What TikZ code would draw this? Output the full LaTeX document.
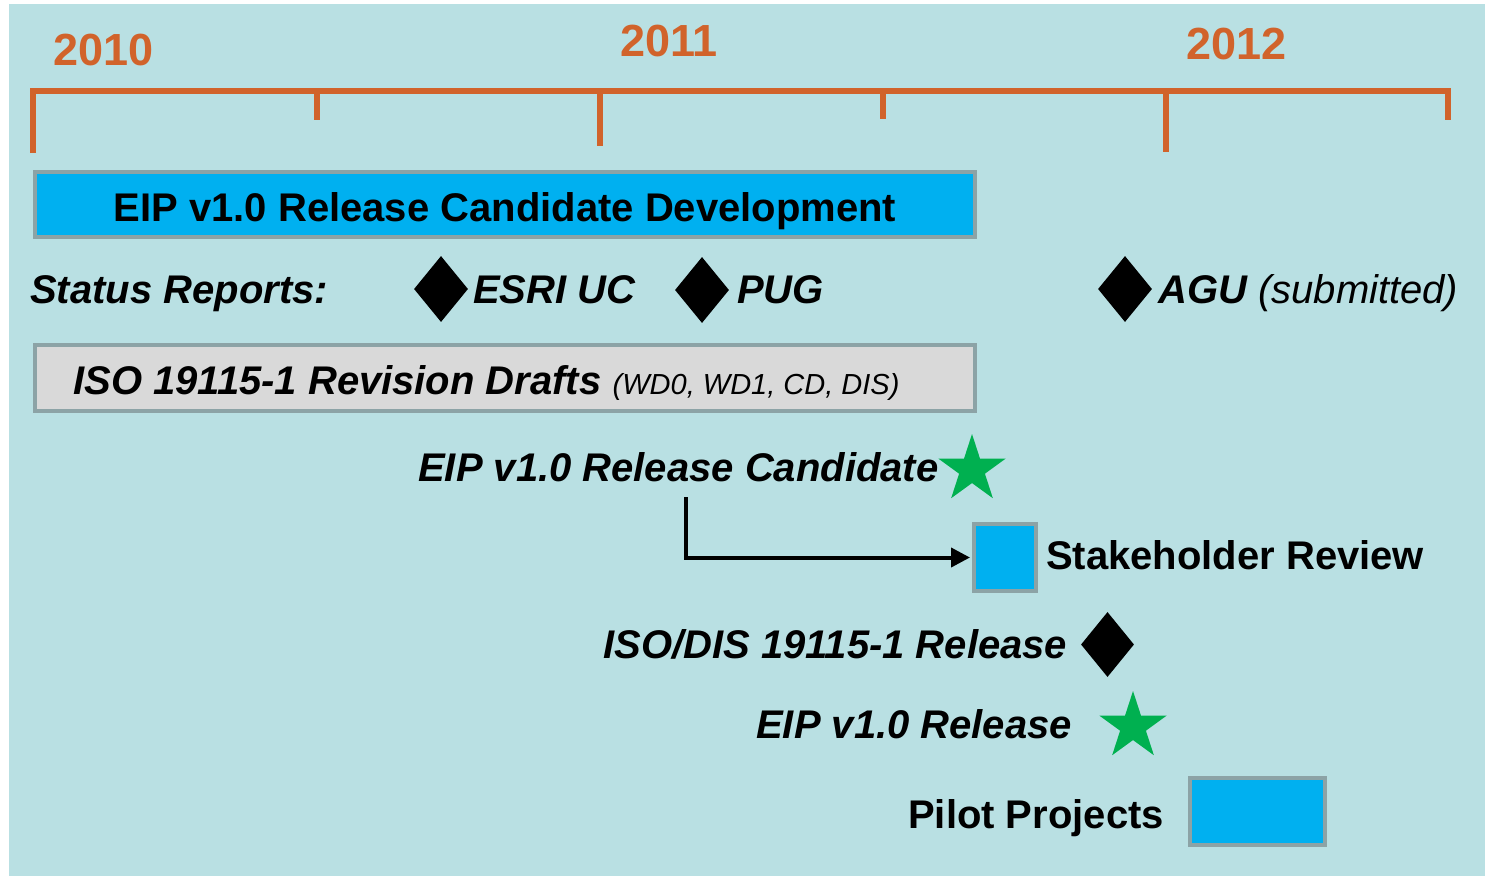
\documentclass[tikz,border=0pt]{standalone}
\usepackage{fontspec}
\setmainfont{Liberation Sans}
\usetikzlibrary{shapes.geometric,arrows.meta}
\definecolor{bgc}{RGB}{185,224,227}
\definecolor{orng}{RGB}{209,99,43}
\definecolor{barblue}{RGB}{0,176,240}
\definecolor{bargray}{RGB}{217,217,217}
\definecolor{edgegray}{RGB}{140,163,166}
\definecolor{stargreen}{RGB}{0,176,80}
\tikzset{
  bar/.style={draw=edgegray, line width=4pt, rectangle, inner sep=0pt},
  bluebar/.style={bar, fill=barblue},
  graybar/.style={bar, fill=bargray},
  milestone/.style={diamond, fill=black, minimum width=54pt, minimum height=66pt, inner sep=0pt},
  goal/.style={star, star points=5, star point ratio=2.618, fill=stargreen, minimum size=71pt, inner sep=0pt},
  lbl/.style={font=\fontsize{40}{48}\selectfont\bfseries\itshape, inner sep=0pt, anchor=base west},
  lblup/.style={font=\fontsize{40}{48}\selectfont\bfseries, inner sep=0pt, anchor=base west},
  year/.style={font=\fontsize{45}{54}\selectfont\bfseries, text=orng, inner sep=0pt, anchor=base west},
  tl/.style={draw=orng, line width=6pt, line join=miter},
  link/.style={draw=black, line width=4pt, -{Triangle[length=19pt,width=19pt]}},
}
\begin{document}
\begin{tikzpicture}[x=1pt,y=-1pt]
\useasboundingbox (0,0) rectangle (1485,876);
\fill[bgc] (9,4) rectangle (1485,876);
% timeline
\draw[tl] (33,153) -- (33,91) -- (1448,91) -- (1448,120);
\draw[tl] (316.5,91) -- (316.5,120);
\draw[tl] (600,91) -- (600,146);
\draw[tl] (883,91) -- (883,119);
\draw[tl] (1166,91) -- (1166,152);
\node[year] (y2010) at (53,65) {2010};
\node[year] (y2011) at (620,56) {2011};
\node[year] (y2012) at (1186,59) {2012};
% development bar
\node[bluebar, minimum width=940pt, minimum height=65pt, text height=33pt, text depth=0pt,
      font=\fontsize{40}{48}\selectfont\bfseries] (dev) at (505,204.5) {EIP v1.0 Release Candidate Development};
% status reports
\node[lbl] (status) at (30,303) {Status Reports:};
\node[milestone] (esri) at (441,289) {};
\node[lbl] (esritxt) at (473,303) {ESRI UC};
\node[milestone] (pug) at (702,290) {};
\node[lbl] (pugtxt) at (737,303) {PUG};
\node[milestone] (agu) at (1125,289) {};
\node[lbl] (agutxt) at (1158,303) {AGU {\mdseries(submitted)}};
% ISO drafts bar
\node[graybar, minimum width=940pt, minimum height=66pt] (iso) at (505,378) {};
\node[lbl] (isotxt) at (73,394) {ISO 19115-1 Revision Drafts {\fontsize{29}{35}\selectfont\mdseries(WD0, WD1, CD, DIS)}};
% release candidate
\node[lbl] (rc) at (418,481) {EIP v1.0 Release Candidate};
\node[goal] (rcstar) at (972,469.5) {};
\node[bluebar, minimum width=62pt, minimum height=67pt] (review) at (1005,557.5) {};
\node[lblup] (reviewtxt) at (1046,569) {Stakeholder Review};
\coordinate (arrstart) at (686,497);
\draw[link, shorten >=2pt] (arrstart) |- (review.west);
% ISO/DIS release
\node[lbl] (dis) at (603,658) {ISO/DIS 19115-1 Release};
\node[milestone, minimum width=53pt, minimum height=65pt] (dism) at (1107.5,644.5) {};
% EIP release
\node[lbl] (rel) at (756,738) {EIP v1.0 Release};
\node[goal] (relstar) at (1133,726.5) {};
% pilot projects
\node[lblup] (pilottxt) at (908,828) {Pilot Projects};
\node[bluebar, minimum width=135pt, minimum height=67pt] (pilot) at (1257.5,811.5) {};
\end{tikzpicture}
\end{document}
